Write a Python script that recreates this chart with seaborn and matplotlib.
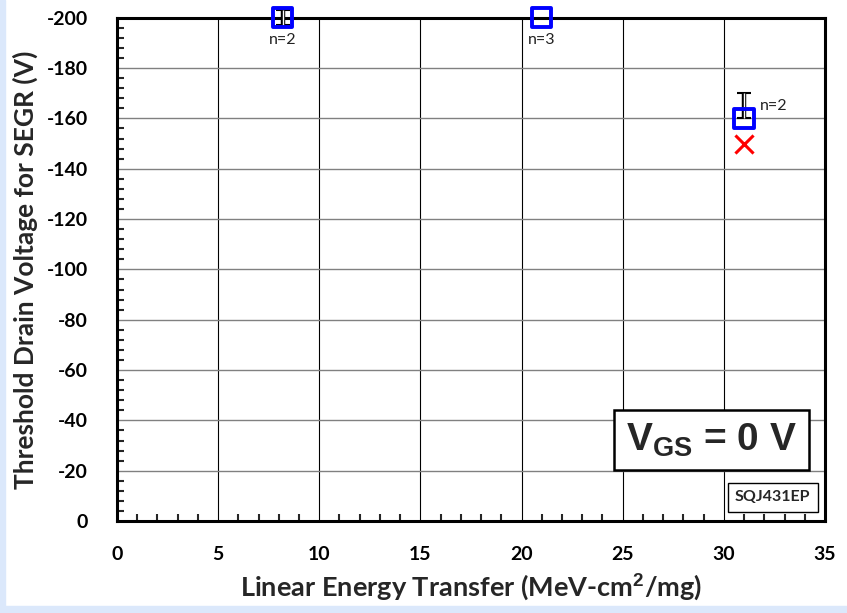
import matplotlib
matplotlib.use("Agg")
import matplotlib.pyplot as plt
import seaborn as sns
import pandas as pd
from matplotlib.ticker import MultipleLocator
from matplotlib.patches import Rectangle

# Data
let_blue = [8.2, 21.0, 31.0]
vds_blue = [-200, -200, -160]
err_neg = [3, 0, 10]    # extent toward more negative voltage
err_pos = [3, 0, 0]
n_labels = ["n=2", "n=3", "n=2"]
let_red = [31.0]
vds_red = [-150]

sns.set_theme(style="white")
plt.rcParams['font.family'] = ['Lato', 'DejaVu Sans']
plt.rcParams['axes.unicode_minus'] = False
plt.rcParams['mathtext.fontset'] = 'custom'
plt.rcParams['mathtext.rm'] = 'Liberation Sans'
plt.rcParams['mathtext.bf'] = 'Liberation Sans:bold'

fig = plt.figure(figsize=(8.47, 6.13), dpi=100)
ax = fig.add_axes([0.138, 0.150, 0.836, 0.821])

# light blue frame at the figure edge
fig.patches.append(Rectangle((0, 0), 0.006, 1, transform=fig.transFigure, color="#dbe8fb", zorder=0))
fig.patches.append(Rectangle((0, 0), 1, 0.012, transform=fig.transFigure, color="#dbe8fb", zorder=0))

ax.set_xlim(0, 35)
ax.set_ylim(0, -200)

ax.xaxis.set_major_locator(MultipleLocator(5))
ax.xaxis.set_minor_locator(MultipleLocator(1))
ax.yaxis.set_major_locator(MultipleLocator(20))
ax.yaxis.set_minor_locator(MultipleLocator(4))

ax.grid(True, which="major", axis="x", color="black", lw=0.8)
ax.grid(True, which="major", axis="y", color="#808080", lw=1.0)
ax.set_axisbelow(True)

for s in ax.spines.values():
    s.set_color("black")
    s.set_linewidth(2.2)

ax.tick_params(axis="x", which="major", direction="in", length=8, width=1.5, labelsize=14, pad=18, colors="black")
ax.tick_params(axis="x", which="minor", direction="in", length=5, width=1.5, bottom=True)
ax.tick_params(axis="y", which="major", direction="inout", length=14, width=1.5, labelsize=14, pad=14, colors="black")
ax.tick_params(axis="y", which="minor", direction="in", length=5, width=1.5, left=True)
for lab in ax.get_xticklabels() + ax.get_yticklabels():
    lab.set_fontweight("bold")

# error bars (double-line look)
for x, y, u, d in zip(let_blue, vds_blue, err_neg, err_pos):
    if u or d:
        ax.errorbar([x], [y], yerr=[[u], [d]], fmt="none", ecolor="black", elinewidth=3.2,
                    capsize=5, capthick=1.5, zorder=3, clip_on=False)
        ax.errorbar([x], [y], yerr=[[u], [d]], fmt="none", ecolor="white", elinewidth=1.0,
                    capsize=0, zorder=3.1, clip_on=False)

df_b = pd.DataFrame({"LET": let_blue, "V": vds_blue})
sns.scatterplot(data=df_b, x="LET", y="V", ax=ax, marker="s", s=190,
                facecolors="none", edgecolor="#0000ff", linewidth=2.8, zorder=4, clip_on=False)
df_r = pd.DataFrame({"LET": let_red, "V": vds_red})
sns.scatterplot(data=df_r, x="LET", y="V", ax=ax, marker="x", s=170,
                color="#ff0000", linewidth=2.2, zorder=4, clip_on=False)

ax.text(8.2, -191, n_labels[0], ha="center", va="center", fontsize=11.5, color="#222222")
ax.text(21.0, -191, n_labels[1], ha="center", va="center", fontsize=11.5, color="#222222")
ax.text(31.8, -165, n_labels[2], ha="left", va="center", fontsize=11.5, color="#222222")

ax.set_xlabel("Linear Energy Transfer (MeV-cm$^\\mathbf{2}$/mg)", fontsize=19.5, fontweight="bold", labelpad=6)
ax.set_ylabel("Threshold Drain Voltage for SEGR (V)", fontsize=19, fontweight="bold", labelpad=6)

ax.text(0.840, 0.161, "$\\mathbf{V_{GS}}$ = 0 V", transform=ax.transAxes, ha="center", va="center",
        fontsize=28, fontweight="bold", family="Liberation Sans",
        bbox=dict(boxstyle="square,pad=0.3", fc="white", ec="black", lw=1.8))
ax.text(0.926, 0.047, "SQJ431EP", transform=ax.transAxes, ha="center", va="center",
        fontsize=11.5, fontweight="bold",
        bbox=dict(boxstyle="square,pad=0.45", fc="white", ec="black", lw=1.0))

fig.savefig("out.png", dpi=100)
